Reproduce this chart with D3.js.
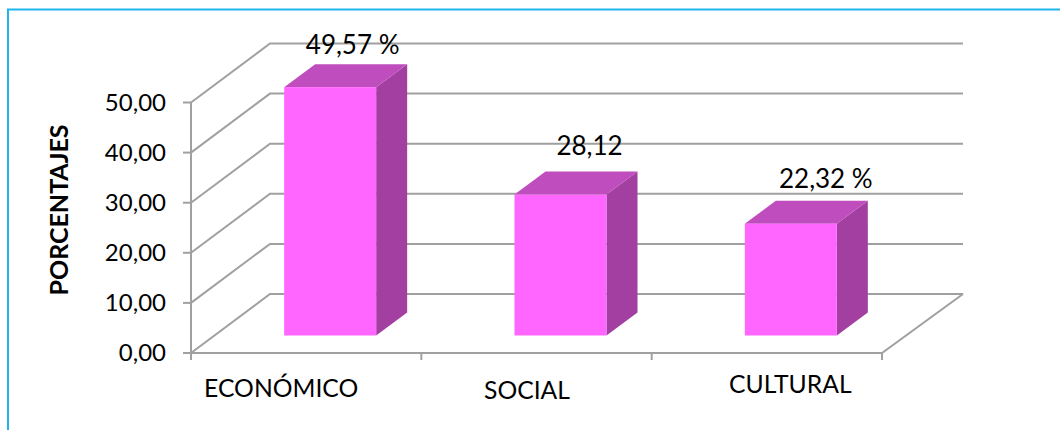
<!DOCTYPE html>
<html>
<head>
<meta charset="utf-8">
<script src="https://cdn.jsdelivr.net/npm/d3@7/dist/d3.min.js"></script>
<style>
html,body{margin:0;padding:0;background:#fff}
svg{display:block}
text{font-family:Lato,Carlito,sans-serif;fill:#000}
</style>
</head>
<body>
<svg id="chart" width="1060" height="430"></svg>
<script>
const categories = ["ECONÓMICO", "SOCIAL", "CULTURAL"];
const values = [49.57, 28.12, 22.32];
const valueLabels = ["49,57 %", "28,12", "22,32 %"];
const yTicks = [0, 10, 20, 30, 40, 50];

const svg = d3.select("#chart");

// Pseudo-3D frame: the back wall is the front plane shifted by (depthX, depthY)
const depthX = 79, depthY = -59;
const x = d3.scaleBand().domain(categories).range([191, 882]);
const y = d3.scaleLinear().domain([0, 50]).range([353, 102.5]);

const gridColor = "#a0a0a0";
const sideFill = "#a23fa0", topFill = "#bf4dbd", frontFill = "#ff66ff";

// Outer frame of the chart area
svg.append("rect")
  .attr("x", 8).attr("y", 9.5)
  .attr("width", 1060).attr("height", 440)
  .attr("fill", "#fff").attr("stroke", "#1fb4ec").attr("stroke-width", 2);

const grid = svg.append("g").attr("fill", "none").attr("stroke", gridColor).attr("stroke-width", 2);

// Gridlines on the side wall and back wall
grid.selectAll("path.wall").data(yTicks).join("path")
  .attr("class", "wall")
  .attr("d", d => {
    const p = d3.path();
    p.moveTo(x.range()[0], y(d));
    p.lineTo(x.range()[0] + depthX, y(d) + depthY);
    p.lineTo(x.range()[1] + depthX + 2, y(d) + depthY);
    return p.toString();
  });

// Floor edges
grid.append("path").attr("d", () => {
  const p = d3.path();
  p.moveTo(x.range()[0], y(0));
  p.lineTo(x.range()[1], y(0));
  p.lineTo(x.range()[1] + depthX + 2, y(0) + depthY);
  return p.toString();
});

// Value axis line and ticks
grid.append("line")
  .attr("x1", x.range()[0]).attr("x2", x.range()[0])
  .attr("y1", y(50)).attr("y2", y(0) + 7);
grid.selectAll("line.ytick").data(yTicks).join("line")
  .attr("class", "ytick")
  .attr("x1", x.range()[0] - 8).attr("x2", x.range()[0])
  .attr("y1", d => y(d)).attr("y2", d => y(d));

// Category separators under the floor
const catEdges = categories.map(c => x(c)).concat(x.range()[1]);
grid.selectAll("line.xtick").data(catEdges.slice(1)).join("line")
  .attr("class", "xtick")
  .attr("x1", d => d).attr("x2", d => d)
  .attr("y1", y(0)).attr("y2", y(0) + 7);

svg.selectAll("text.ylab").data(yTicks).join("text")
  .attr("class", "ylab")
  .attr("x", 166).attr("y", d => y(d))
  .attr("dy", "0.35em")
  .attr("text-anchor", "end")
  .attr("font-size", 24)
  .text(d => d3.format(".2f")(d).replace(".", ","));

// Bars: front face sits part of the way into the floor depth
const barWidth = 92, barShiftX = 24, barShiftY = -17.5;
const barDepthX = 31, barDepthY = -23;
const bars = svg.selectAll("g.bar").data(categories.map((c, i) => ({c, v: values[i]}))).join("g")
  .attr("class", "bar");

const left = d => x(d.c) + (x.bandwidth() - barWidth) / 2 + barShiftX;
const top_ = d => y(d.v) + barShiftY;
const bottom = () => y(0) + barShiftY;
const poly = pts => "M" + pts.map(p => p.join(",")).join("L") + "Z";

bars.append("path").attr("fill", sideFill).attr("d", d => {
  const r = left(d) + barWidth;
  return poly([[r, top_(d)], [r + barDepthX, top_(d) + barDepthY], [r + barDepthX, bottom() + barDepthY], [r, bottom()]]);
});
bars.append("path").attr("fill", topFill).attr("d", d => {
  const l = left(d), r = l + barWidth, t = top_(d);
  return poly([[l, t], [l + barDepthX, t + barDepthY], [r + barDepthX, t + barDepthY], [r, t]]);
});
bars.append("rect").attr("fill", frontFill)
  .attr("x", left).attr("y", top_)
  .attr("width", barWidth).attr("height", d => bottom() - top_(d));

// Value labels, each placed by hand above its bar
const labelNudge = [[68.5, -33], [75, -40], [81, -36]];
svg.selectAll("text.val").data(categories.map((c, i) => ({c, v: values[i], i}))).join("text")
  .attr("class", "val")
  .attr("x", d => left(d) + labelNudge[d.i][0])
  .attr("y", d => top_(d) + labelNudge[d.i][1])
  .attr("text-anchor", "middle")
  .attr("font-size", 26)
  .text(d => valueLabels[d.i]);

// Category labels with their slightly uneven placement
const catCenterNudge = [-25, -9.5, 23.5];
const catBaseline = [397, 399, 393];
svg.selectAll("text.cat").data(categories).join("text")
  .attr("class", "cat")
  .attr("x", (c, i) => x(c) + x.bandwidth() / 2 + catCenterNudge[i])
  .attr("y", (c, i) => catBaseline[i])
  .attr("text-anchor", "middle")
  .attr("font-size", 24.7)
  .text(c => c);

svg.append("text")
  .attr("transform", "translate(68,210) rotate(-90)")
  .attr("text-anchor", "middle")
  .attr("font-size", 25)
  .attr("font-weight", 700)
  .text("PORCENTAJES");
</script>
</body>
</html>
